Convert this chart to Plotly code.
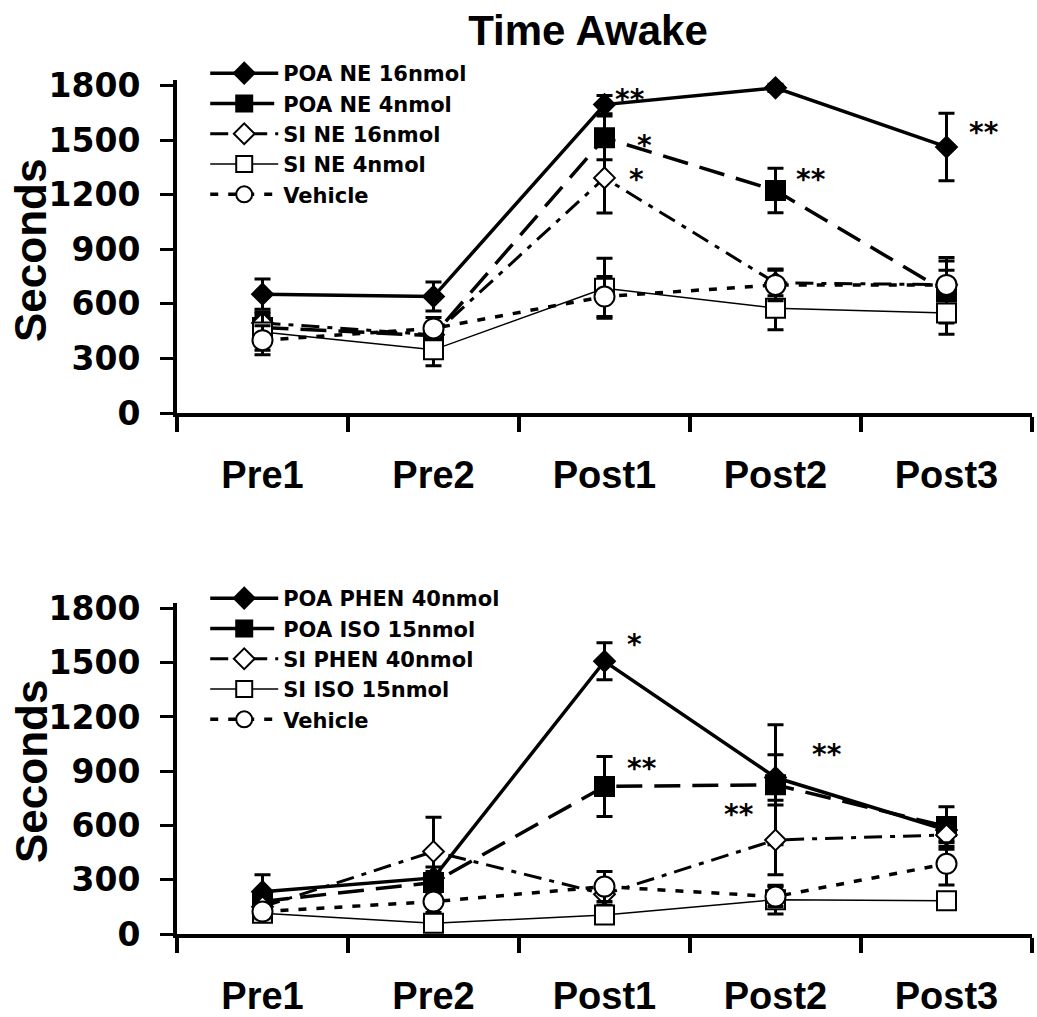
import plotly.graph_objects as go

# ---------------- data ----------------
categories = ["Pre1", "Pre2", "Post1", "Post2", "Post3"]
y_ticks = [0, 300, 600, 900, 1200, 1500, 1800]

# Top panel (NE)
top_names = ["POA NE 16nmol", "POA NE 4nmol", "SI NE 16nmol", "SI NE 4nmol", "Vehicle"]
poa_ne16 = [653, 640, 1695, 1787, 1462]
poa_ne16_sem = [83, 80, 50, 20, 185]
poa_ne4 = [470, 425, 1512, 1223, 665]
poa_ne4_sem = [60, 50, 120, 122, 170]
si_ne16 = [495, 430, 1292, 715, 705]
si_ne16_sem = [60, 50, 193, 70, 150]
si_ne4 = [445, 347, 686, 576, 549]
si_ne4_sem = [100, 88, 165, 119, 116]
veh_top = [400, 465, 640, 704, 704]
veh_top_sem = [80, 60, 110, 87, 80]

# Bottom panel (PHEN / ISO)
bot_names = ["POA PHEN 40nmol", "POA ISO 15nmol", "SI PHEN 40nmol", "SI ISO 15nmol", "Vehicle"]
poa_phen = [234, 310, 1508, 865, 575]
poa_phen_sem = [93, 60, 102, 126, 60]
poa_iso = [180, 285, 816, 825, 594]
poa_iso_sem = [50, 60, 166, 332, 110]
si_phen = [150, 456, 220, 520, 548]
si_phen_sem = [40, 190, 60, 193, 80]
si_iso = [115, 59, 105, 190, 184]
si_iso_sem = [30, 20, 20, 80, 20]
veh_bot = [124, 179, 262, 207, 388]
veh_bot_sem = [40, 60, 83, 55, 117]

# significance marks: (text, x position in category units, y value)
top_stars = [("**", 2.05, 1762), ("*", 2.18, 1509), ("*", 2.13, 1323),
             ("**", 3.11, 1839), ("**", 3.11, 1323), ("**", 4.12, 1581)]
bot_stars = [("*", 2.12, 1639), ("**", 2.12, 954), ("**", 3.20, 1030), ("**", 2.69, 698)]

# ---------------- styles ----------------
styles = [
    dict(symbol="diamond", fill="black", size=16, lw=3.5, dash="solid"),
    dict(symbol="square", fill="black", size=19, lw=3.5, dash="26px,12px"),
    dict(symbol="diamond", fill="white", size=16, lw=3, dash="18px,8px,5px,8px"),
    dict(symbol="square", fill="white", size=19, lw=1.5, dash="solid"),
    dict(symbol="circle", fill="white", size=20, lw=3.5, dash="8px,10px"),
]

xs = list(range(len(categories)))
fig = go.Figure()

def add_series(names, series, sems, xa, ya, legend):
    for name, ys, es, st in zip(names, series, sems, styles):
        fig.add_trace(go.Scatter(
            x=xs, y=ys, name=name, mode="lines+markers",
            xaxis=xa, yaxis=ya, legend=legend, cliponaxis=False,
            line=dict(color="black", width=st["lw"], dash=st["dash"]),
            marker=dict(symbol=st["symbol"], size=st["size"], color=st["fill"],
                        line=dict(color="black", width=2)),
            error_y=dict(type="data", array=es, visible=True, color="black",
                         thickness=3, width=8),
        ))

add_series(top_names, [poa_ne16, poa_ne4, si_ne16, si_ne4, veh_top],
           [poa_ne16_sem, poa_ne4_sem, si_ne16_sem, si_ne4_sem, veh_top_sem],
           "x", "y", "legend")
add_series(bot_names, [poa_phen, poa_iso, si_phen, si_iso, veh_bot],
           [poa_phen_sem, poa_iso_sem, si_phen_sem, si_iso_sem, veh_bot_sem],
           "x2", "y2", "legend2")

star_font = dict(family="DejaVu Sans", size=28, color="black", weight="bold")
annotations = []
for txt, x, y in top_stars:
    annotations.append(dict(text=txt, x=x, y=y, xref="x", yref="y", xanchor="left",
                            yanchor="middle", showarrow=False, yshift=-7, font=star_font))
for txt, x, y in bot_stars:
    annotations.append(dict(text=txt, x=x, y=y, xref="x2", yref="y2", xanchor="left",
                            yanchor="middle", showarrow=False, yshift=-7, font=star_font))

H = 1017.0
L, R = 177, 5
PW = 1037.0 - L - R
for yc in (251, 772):
    annotations.append(dict(text="Seconds", x=(31 - L) / PW, y=1 - yc / H, xref="paper", yref="paper",
                            showarrow=False, textangle=-90, xanchor="center", yanchor="middle",
                            font=dict(family="Liberation Sans", size=44, color="black", weight="bold")))

def xaxis_cfg():
    return dict(range=[-0.5, 4.5], domain=[0, 1], tickmode="array", tickvals=xs, ticktext=categories,
                ticks="", showline=True, linewidth=4, linecolor="black", showgrid=False,
                zeroline=False, ticklabelstandoff=25, automargin=False,
                tickfont=dict(family="Liberation Sans", size=38, color="black", weight="bold"),
                minor=dict(tickmode="array", tickvals=[-0.5, 0.5, 1.5, 2.5, 3.5, 4.5],
                           ticks="outside", ticklen=15, tickwidth=4, tickcolor="black",
                           showgrid=False))

def yaxis_cfg(domain):
    return dict(range=[0, 1830], domain=domain, tickmode="array", tickvals=y_ticks,
                ticks="outside", ticklen=13, tickwidth=3, tickcolor="black",
                showline=True, linewidth=4, linecolor="black", showgrid=False,
                zeroline=False, ticklabelstandoff=13, automargin=False,
                tickfont=dict(family="DejaVu Sans", size=33, color="black", weight="bold"))

legend_font = dict(family="DejaVu Sans", size=21, color="black", weight="bold")

fig.update_layout(
    width=1037, height=1017,
    margin=dict(l=L, r=R, t=0, b=0, autoexpand=False),
    paper_bgcolor="white", plot_bgcolor="white",
    showlegend=True,
    title=dict(text="Time Awake", x=588 / 1037.0, xanchor="center", xref="container",
               y=1 - 30 / H, yanchor="middle", yref="container", automargin=False,
               font=dict(family="Liberation Sans", size=42, color="black", weight="bold")),
    xaxis=dict(**xaxis_cfg(), anchor="y"),
    yaxis=dict(**yaxis_cfg([(H - 413) / H, (H - 80) / H]), anchor="x"),
    xaxis2=dict(**xaxis_cfg(), anchor="y2"),
    yaxis2=dict(**yaxis_cfg([(H - 934) / H, (H - 603) / H]), anchor="x2"),
    legend=dict(x=0.033, y=1 - 53 / H, xanchor="left", yanchor="top", xref="paper", yref="paper",
                bgcolor="rgba(0,0,0,0)", font=legend_font, itemwidth=68, tracegroupgap=0),
    legend2=dict(x=0.033, y=1 - 578 / H, xanchor="left", yanchor="top", xref="paper", yref="paper",
                 bgcolor="rgba(0,0,0,0)", font=legend_font, itemwidth=68, tracegroupgap=0),
    annotations=annotations,
)

fig.write_html("out.html", config={"displayModeBar": False},
               post_script="document.body.style.margin='0';")
